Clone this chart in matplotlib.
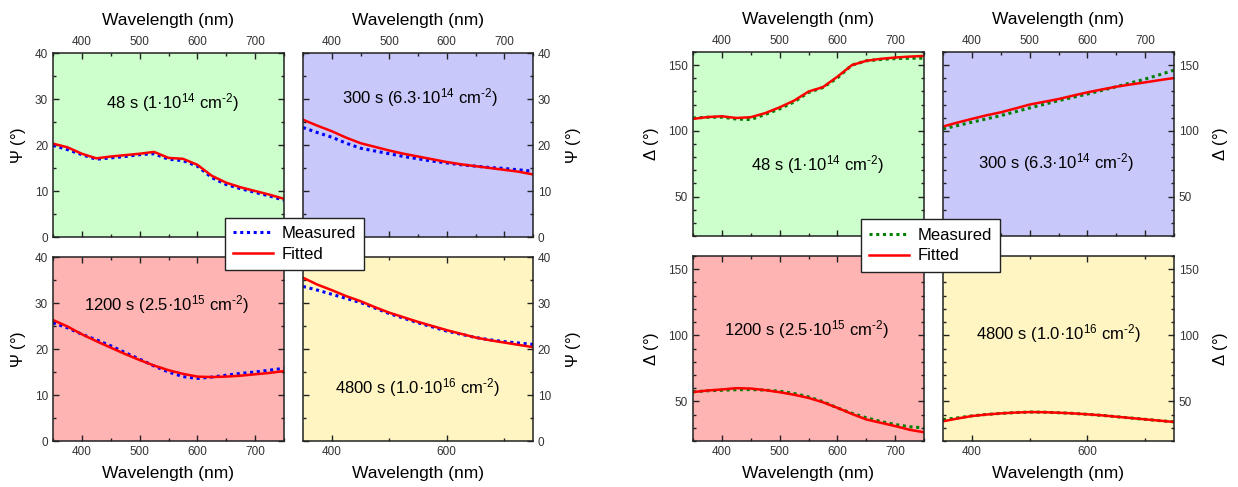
import matplotlib
matplotlib.use("Agg")
import matplotlib.pyplot as plt
from matplotlib.ticker import MultipleLocator
from matplotlib.lines import Line2D

plt.rcParams['font.family'] = ['Liberation Sans', 'DejaVu Sans']
plt.rcParams['mathtext.fontset'] = 'custom'
plt.rcParams['mathtext.rm'] = 'Liberation Sans'
plt.rcParams['mathtext.it'] = 'Liberation Sans:italic'
plt.rcParams['mathtext.default'] = 'regular'

# wavelength grid (nm)
wl = [350, 375, 400, 425, 450, 475, 500, 525, 550, 575, 600, 625, 650, 675, 700, 725, 750]

# Psi (deg): measured / fitted
psi_48_meas = [19.9, 19.0, 17.9, 16.9, 17.2, 17.5, 17.9, 18.1, 16.9, 16.6, 15.4, 12.9, 11.4, 10.5, 9.7, 8.9, 8.0]
psi_48_fit = [20.3, 19.5, 18.1, 17.1, 17.5, 17.8, 18.1, 18.5, 17.2, 17.0, 15.7, 13.3, 11.8, 10.8, 10.0, 9.2, 8.3]
psi_300_meas = [23.8, 22.7, 21.7, 20.4, 19.3, 18.7, 18.1, 17.5, 17.0, 16.5, 16.1, 15.7, 15.4, 15.1, 14.9, 14.6, 14.3]
psi_300_fit = [25.5, 24.2, 23.0, 21.6, 20.4, 19.6, 18.8, 18.1, 17.5, 16.9, 16.3, 15.8, 15.4, 15.0, 14.6, 14.2, 13.6]
psi_1200_meas = [25.7, 24.6, 23.2, 22.0, 20.7, 19.2, 17.8, 16.3, 15.0, 14.0, 13.6, 13.9, 14.3, 14.7, 15.0, 15.4, 15.8]
psi_1200_fit = [26.3, 24.9, 23.2, 21.7, 20.3, 18.9, 17.6, 16.4, 15.4, 14.6, 14.0, 13.9, 14.0, 14.2, 14.5, 14.8, 15.2]
psi_4800_meas = [33.6, 32.8, 31.9, 31.0, 30.1, 28.9, 27.7, 26.7, 25.7, 24.8, 23.9, 23.2, 22.5, 22.0, 21.6, 21.3, 21.0]
psi_4800_fit = [35.5, 34.0, 32.8, 31.5, 30.4, 29.1, 27.9, 26.9, 25.9, 25.0, 24.1, 23.3, 22.5, 21.9, 21.4, 20.9, 20.4]

# Delta (deg): measured / fitted
del_48_meas = [109.8, 110.3, 110.4, 109.0, 108.6, 112.5, 116.7, 122.0, 129.2, 133.0, 140.2, 150.0, 153.3, 154.3, 155.0, 155.2, 155.3]
del_48_fit = [109.1, 110.5, 111.1, 109.8, 110.4, 113.5, 117.9, 123.0, 129.9, 133.3, 141.2, 150.0, 153.3, 154.8, 155.8, 156.5, 157.0]
del_300_meas = [101.5, 104.0, 106.6, 109.1, 111.6, 114.5, 117.4, 120.2, 123.0, 125.5, 128.0, 130.8, 133.6, 136.5, 139.4, 142.7, 146.2]
del_300_fit = [103.3, 106.3, 109.1, 111.8, 114.1, 117.0, 120.0, 122.1, 124.2, 126.8, 129.3, 131.5, 133.6, 135.3, 136.9, 138.6, 140.2]
del_1200_meas = [57.2, 58.0, 58.4, 58.8, 58.9, 58.5, 57.7, 56.0, 53.4, 49.8, 45.1, 41.0, 37.6, 34.8, 32.5, 30.8, 29.9]
del_1200_fit = [57.0, 58.2, 59.0, 60.0, 59.7, 58.5, 56.9, 55.0, 52.6, 49.3, 45.1, 40.5, 36.3, 33.8, 31.3, 28.5, 26.6]
del_4800_meas = [36.2, 37.5, 39.0, 40.1, 40.9, 41.5, 41.9, 41.8, 41.4, 40.9, 40.2, 39.4, 38.4, 37.4, 36.4, 35.4, 34.5]
del_4800_fit = [34.9, 37.0, 38.9, 40.0, 40.9, 41.5, 41.9, 41.8, 41.4, 40.9, 40.2, 39.4, 38.4, 37.4, 36.4, 35.4, 34.4]

labels = ['48 s (1\u00b710$^{14}$ cm$^{\u20102}$)',
          '300 s (6.3\u00b710$^{14}$ cm$^{\u20102}$)',
          '1200 s (2.5\u00b710$^{15}$ cm$^{\u20102}$)',
          '4800 s (1.0\u00b710$^{16}$ cm$^{\u20102}$)']
bg = ['#ccffcc', '#c8c8fa', '#ffb4b4', '#fff5c2']

W, H = 1238, 487
fig = plt.figure(figsize=(W / 100, H / 100), dpi=100)


def px_axes(x0, y0, x1, y1):
    return fig.add_axes([x0 / W, 1 - y1 / H, (x1 - x0) / W, (y1 - y0) / H])


def style(ax, top, right, ylabel, ylim, ymaj, ymin, xmaj):
    ax.set_xlim(350, 750)
    ax.set_ylim(*ylim)
    ax.xaxis.set_major_locator(MultipleLocator(xmaj))
    ax.xaxis.set_minor_locator(MultipleLocator(50 if xmaj == 100 else 100))
    ax.yaxis.set_major_locator(MultipleLocator(ymaj))
    ax.yaxis.set_minor_locator(MultipleLocator(ymin))
    ax.tick_params(which='both', direction='in', top=True, bottom=True, left=True, right=True,
                   labelsize=8.5, labelcolor='#333333', width=1, color='#222222')
    ax.tick_params(which='major', length=4)
    ax.tick_params(which='minor', length=2.5)
    for s in ax.spines.values():
        s.set_linewidth(1.1)
        s.set_color('#222222')
    if top:
        ax.tick_params(labeltop=True, labelbottom=False)
        ax.xaxis.set_label_position('top')
    if right:
        ax.tick_params(labelright=True, labelleft=False)
        ax.yaxis.set_label_position('right')
    ax.set_xlabel('Wavelength (nm)', fontsize=12.5, labelpad=8 if top else 6)
    ax.set_ylabel(ylabel, fontsize=12, rotation=90, labelpad=9 if right else 5)


psi_sets = [(psi_48_meas, psi_48_fit), (psi_300_meas, psi_300_fit),
            (psi_1200_meas, psi_1200_fit), (psi_4800_meas, psi_4800_fit)]
del_sets = [(del_48_meas, del_48_fit), (del_300_meas, del_300_fit),
            (del_1200_meas, del_1200_fit), (del_4800_meas, del_4800_fit)]

psi_boxes = [(53, 53, 284, 237), (303, 53, 533, 237), (53, 257, 284, 441), (303, 257, 533, 441)]
del_boxes = [(693, 52, 924, 236), (943, 52, 1174, 236), (693, 256, 924, 441), (943, 256, 1174, 441)]
psi_txt = [(0.515, 0.73), (0.51, 0.76), (0.49, 0.74), (0.50, 0.29)]
del_txt = [(0.54, 0.39), (0.49, 0.40), (0.49, 0.60), (0.50, 0.58)]

for i in range(4):
    top = i < 2
    right = i % 2 == 1
    xmaj = 200 if i == 3 else 100

    ax = px_axes(*psi_boxes[i])
    ax.set_facecolor(bg[i])
    meas, fit = psi_sets[i]
    ax.plot(wl, meas, color='#0000ff', lw=2.2, dashes=(1, 1.2))
    ax.plot(wl, fit, color='#ff0000', lw=1.8)
    style(ax, top, right, '$\\Psi$ (°)', (0, 40), 10, 5, xmaj)
    ax.text(*psi_txt[i], labels[i], transform=ax.transAxes, ha='center', va='center', fontsize=12)

    ax = px_axes(*del_boxes[i])
    ax.set_facecolor(bg[i])
    meas, fit = del_sets[i]
    ax.plot(wl, meas, color='#008000', lw=2.2, dashes=(1, 1.2))
    ax.plot(wl, fit, color='#ff0000', lw=1.8)
    style(ax, top, right, '$\\Delta$ (°)', (20, 160), 50, 10, xmaj)
    ax.text(*del_txt[i], labels[i], transform=ax.transAxes, ha='center', va='center', fontsize=12)

for cx, cy, mc in [(294.5, 244, '#0000ff'), (930.5, 245.5, '#008000')]:
    handles = [Line2D([], [], color=mc, lw=2.2, dashes=(1, 1.2)),
               Line2D([], [], color='#ff0000', lw=1.8)]
    leg = fig.legend(handles, ['Measured', 'Fitted'], loc='center',
                     bbox_to_anchor=(cx / W, 1 - cy / H), fontsize=12,
                     fancybox=False, framealpha=1, edgecolor='#222222',
                     handlelength=2.4, borderpad=0.5, labelspacing=0.35, handletextpad=0.5)
    leg.get_frame().set_linewidth(1.0)

fig.savefig('out.png', dpi=100)
